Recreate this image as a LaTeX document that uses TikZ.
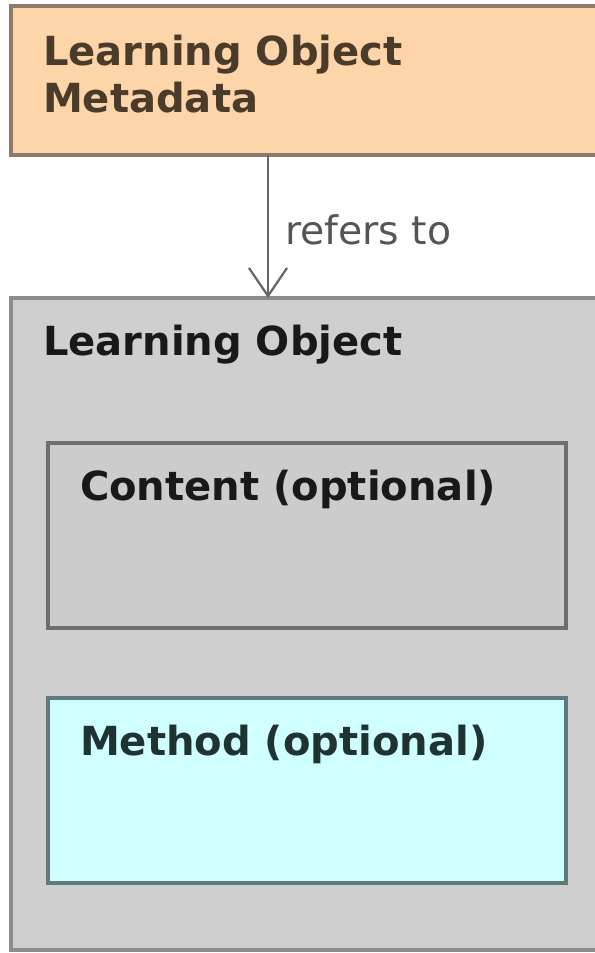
\documentclass[tikz,border=0pt]{standalone}
\usepackage{fontspec}
\setmainfont{DejaVu Sans}
\usepackage[usenames]{xcolor}
\usepackage{tikz}
\usetikzlibrary{arrows.meta}

\definecolor{metafill}{HTML}{FDD5A8}
\definecolor{metaline}{HTML}{8A7B6E}
\definecolor{metatext}{HTML}{4B3B2B}
\definecolor{lofill}{HTML}{CFCFCF}
\definecolor{loline}{HTML}{8C8C8C}
\definecolor{contentfill}{HTML}{CCCCCC}
\definecolor{contentline}{HTML}{6E6E6E}
\definecolor{methodfill}{HTML}{CFFFFF}
\definecolor{methodline}{HTML}{5E7A7A}
\definecolor{methodtext}{HTML}{1F3333}
\definecolor{reltext}{HTML}{555555}

\begin{document}
\begin{tikzpicture}[x=0.025cm,y=-0.025cm,>={Straight Barb[length=7mm,width=9.5mm]}]
	\tikzstyle{every node}=[inner sep=0pt,outer sep=0pt]
	\tikzstyle{box}=[rectangle,draw,line width=2.5pt,anchor=north west]
	\tikzstyle{title}=[anchor=base west,font=\fontsize{28.5}{33.4}\selectfont\bfseries,align=left]
	\useasboundingbox (0,0) rectangle (594,953);
	\node[box,fill=metafill,draw=metaline,minimum width=15.225cm,minimum height=3.725cm] (meta) at (11,6) {};
	\node[box,fill=lofill,draw=loline,minimum width=15.225cm,minimum height=16.3cm] (lo) at (11,298) {};
	\node[box,fill=contentfill,draw=contentline,minimum width=12.95cm,minimum height=4.625cm] (content) at (48,443) {};
	\node[box,fill=methodfill,draw=methodline,minimum width=12.95cm,minimum height=4.625cm] (method) at (48,698) {};
	\node[title,text=metatext] (metatitle) at (43,112) {Learning Object\\Metadata};
	\node[title,text=black!90] (lotitle) at (43,355) {Learning Object};
	\node[title,text=black!90] (contenttitle) at (80,500) {Content (optional)};
	\node[title,text=methodtext] (methodtitle) at (80,755) {Method (optional)};
	\coordinate (from) at (268,155);
	\coordinate (to) at (268,298);
	\draw[->,draw=black!60,line width=1.6pt] (from) -- (to)
		node[midway,anchor=base west,xshift=0.425cm,yshift=-0.45cm,text=reltext,font=\fontsize{28}{33.4}\selectfont] (refers) {refers to};
\end{tikzpicture}
\end{document}
